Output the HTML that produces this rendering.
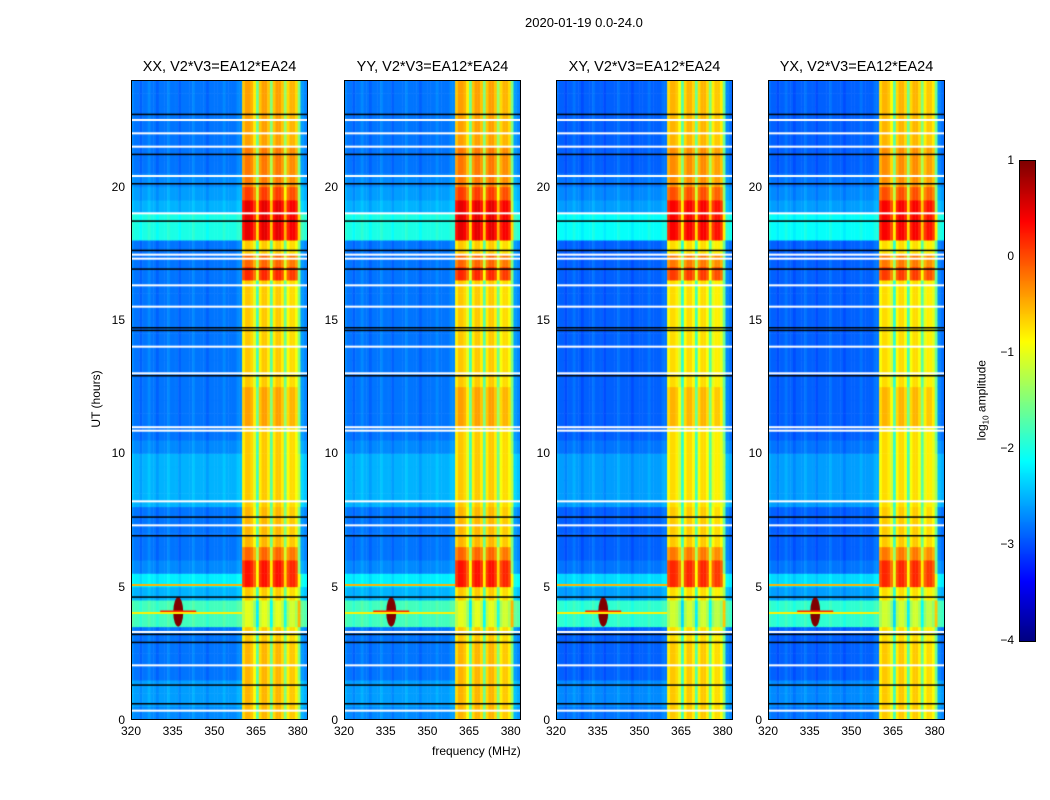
<!DOCTYPE html>
<html><head><meta charset="utf-8">
<style>
body{margin:0;background:#fff;font-family:"Liberation Sans",sans-serif;}
#root{position:relative;width:1050px;height:800px;overflow:hidden;background:#fff;}
.t{position:absolute;font-size:12px;color:#000;white-space:nowrap;}
.title{position:absolute;font-size:14.5px;white-space:nowrap;transform:translateX(-50%);}
canvas{position:absolute;}
.frame{position:absolute;border:1px solid #000;box-sizing:border-box;}
</style></head>
<body>
<div id="root">
<div class="t" style="left:525px;top:15px;font-size:13px">2020-01-19 0.0-24.0</div>
<div class="t" style="left:432px;top:744px;font-size:12px">frequency (MHz)</div>
<div class="t" style="left:56px;top:392px;transform:rotate(-90deg);transform-origin:center;width:80px;text-align:center">UT (hours)</div>
<div class="t" style="left:935px;top:392px;transform:rotate(-90deg);width:95px;text-align:center">log<sub style="font-size:8px">10</sub> amplitude</div>
<canvas id="cb" width="15" height="480" style="left:1019px;top:160px;border:1px solid #000"></canvas>
</div>
<script>
const titles=["XX, V2*V3=EA12*EA24","YY, V2*V3=EA12*EA24","XY, V2*V3=EA12*EA24","YX, V2*V3=EA12*EA24"];
const panelLefts=[131,344,556,768];
const xTicks=[320,335,350,365,380];
const yTicks=[0,5,10,15,20];
const cbTicks=[1,0,-1,-2,-3,-4];
// frequency base level (log10 amplitude), 320..383 MHz at 1 MHz
const freqBase=[-2.7,-2.8,-2.8,-2.9,-2.8,-2.8,-2.7,-2.8,-2.8,-2.9,-2.8,-2.8,-2.8,-2.7,-2.8,-2.8,-2.8,-2.9,-2.8,-2.8,-2.8,-2.8,-2.7,-2.8,-2.8,-2.8,-2.8,-2.9,-2.8,-2.8,-2.8,-2.8,-2.8,-2.7,-2.8,-2.8,-2.8,-2.8,-2.7,-2.7,
 -0.8,-0.6,-0.6,-0.7,-1.0,-1.8,-0.8,-0.6,-0.6,-0.8,-1.7,-0.8,-0.6,-0.6,-0.8,-1.6,-0.9,-0.7,-0.7,-0.9,-1.5,-2.6,-2.7,-2.8];
const bandStart=40, bandEnd=60;
// time offsets per 0.5 h (0..24 h)
const bandTime=[0.1,0.1,0.1,0.1,0.1,0.1,0,-0.4,-0.4,0,0.9,0.9,0.5,0.1,0.1,0.1,0,0,0,0,0,0,0.2,0.2,0.2,0,0,0,0,0,0,0,0,0.8,0.5,0,1.1,1.1,1.1,0.7,0.4,0.4,0.4,0.2,0.2,0.2,0.2,0.2];
const bgTime=[0.1,0.2,0.2,0,0,0,0,1.0,1.0,0.3,0.6,0.1,0,0,0,0,0.3,0.3,0.3,0.3,0.1,0,0,0,0,0,0,0,0,0,0,0,0,0,0,0,0.8,0.8,0.3,0.2,0.1,0,0,0,0,0,0,0];
const rfiFreq=[337];
const rfiHours=[3.5,4.6];
const rfiLevel=[1.6];
const whiteRows=[0.35,2.05,3.3,7.3,8.2,10.85,10.98,13.0,14.0,15.5,16.3,17.3,17.45,19.0,20.4,21.5,22.0,22.5];
const blackRows=[0.6,1.3,2.9,3.2,4.6,6.9,7.6,12.9,14.6,14.7,17.6,18.7,21.2,22.7,20.1,16.9];
const PW=177,PH=640,TOP=80,F0=320,F1=383.7,T1=24;
function xs(f){return (f-F0)/(F1-F0)*PW;}
function ys(h){return PH-h/T1*PH;}
function jet(v){let t=Math.max(0,Math.min(1,(v+4)/5));
 const c=x=>Math.max(0,Math.min(1,x));
 return `rgb(${Math.round(255*c(1.5-Math.abs(4*t-3)))},${Math.round(255*c(1.5-Math.abs(4*t-2)))},${Math.round(255*c(1.5-Math.abs(4*t-1)))})`;}
const root=document.getElementById('root');
function addText(txt,x,y,name,align){const d=document.createElement('div');d.className='t';d.textContent=txt;
 d.style.left=x+'px';d.style.top=y+'px';if(align)d.style.transform=align;
 
 
 root.appendChild(d);}
panelLefts.forEach((L,p)=>{
 const cv=document.createElement('canvas');cv.width=PW;cv.height=PH;cv.style.left=L+'px';cv.style.top=TOP+'px';
 
 
 root.appendChild(cv);const g=cv.getContext('2d');
 const pol=(p>=2)?-0.1:0;
 for(let i=0;i<freqBase.length;i++){
  const inBand=i>=bandStart&&i<bandEnd;
  for(let k=0;k<bandTime.length;k++){
   let v=freqBase[i]+(inBand?bandTime[k]:bgTime[k])+pol;
   const x0=xs(F0+i),x1=xs(F0+i+1),y0=ys((k+1)*0.5),y1=ys(k*0.5);
   g.fillStyle=jet(v);g.fillRect(x0,y0,x1-x0+0.5,y1-y0+0.5);
  }}
 // rfi blob
 rfiFreq.forEach((f,j)=>{const cx=xs(f),cy=ys((rfiHours[0]+rfiHours[1])/2),hh=(ys(rfiHours[0])-ys(rfiHours[1]))/2;
   g.fillStyle=jet(-0.6+rfiLevel[j]);g.beginPath();g.ellipse(cx,cy,5,hh,0,0,7);g.fill();
   g.fillStyle=jet(0.2);g.fillRect(cx-18,cy-1.5,36,3);});
 g.fillStyle=jet(-0.8);g.fillRect(0,ys(4.05),xs(360),2);
 g.fillStyle=jet(-0.5);g.fillRect(0,ys(5.1),xs(360),2);
 whiteRows.forEach(h=>{g.fillStyle='#fff';g.fillRect(0,ys(h)-1,PW,2);});
 blackRows.forEach(h=>{g.fillStyle='#000';g.fillRect(0,ys(h)-1,PW,1.5);});
 const fr=document.createElement('div');fr.className='frame';
 fr.style.cssText=`left:${L}px;top:${TOP}px;width:${PW}px;height:${PH}px`;
 
 
 root.appendChild(fr);
 const tt=document.createElement('div');tt.className='title';tt.textContent=titles[p];
 tt.style.left=(L+PW/2)+'px';tt.style.top='59px';
 
 
 root.appendChild(tt);
 xTicks.forEach(f=>addText(String(f),L+xs(f),724,'x-tick-label','translateX(-50%)'));
 yTicks.forEach(h=>addText(String(h),L-6,TOP+ys(h)-7,'y-tick-label','translateX(-100%)'));
});
const cb=document.getElementById('cb').getContext('2d');
for(let y=0;y<480;y++){cb.fillStyle=jet(1-5*y/480);cb.fillRect(0,y,15,1);}
cbTicks.forEach(v=>addText(String(v).replace('-','\u2212'),1014,160+(1-v)/5*480-7,'colorbar-tick-label','translateX(-100%)'));
</script>
</body></html>
